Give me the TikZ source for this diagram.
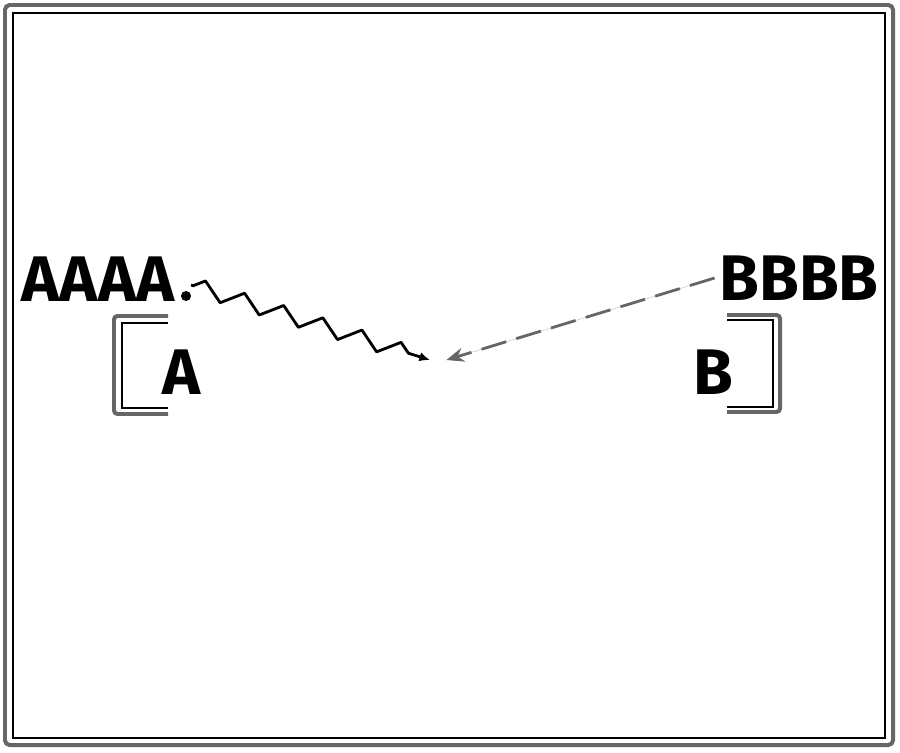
\documentclass[tikz,border=0pt]{standalone}
\usepackage{fontspec}
\setmainfont{Fira Sans}
\usepackage{tikz}
\usetikzlibrary{arrows.meta}
\usetikzlibrary{decorations.pathmorphing}
\pgfdeclarelayer{edgelayer}
\pgfdeclarelayer{nodelayer}
\pgfsetlayers{edgelayer,nodelayer,main}
\tikzstyle{word}=[inner sep=0pt,font=\fontsize{55}{58}\selectfont\bfseries]
\tikzstyle{outerline}=[line width=3.4pt,draw=black!60]
\tikzstyle{innerline}=[line width=1.3pt,draw=black]

\begin{document}
\begin{tikzpicture}[x=0.03cm,y=-0.03cm]
        \useasboundingbox (0,0) rectangle (900,752);
        \begin{pgfonlayer}{nodelayer}
            \node [style = word] (aaaa) at (98, 279) {AAAA};
            \node [style = word] (bbbb) at (799, 278) {BBBB};

            \node [style = word] (a) at (182, 372) {A};
            \node [style = word] (b) at (713, 372) {B};

            \coordinate (dot) at (186, 296);
            \coordinate (meet) at (437, 360);
            \fill (dot) circle (5);
        \end{pgfonlayer}

        \begin{pgfonlayer}{edgelayer}
            % frame
            \draw [style = outerline, rounded corners=4] (5, 5) rectangle (893, 745);
            \draw [style = innerline] (13, 13) rectangle (885, 738);

            % brackets
            \draw [style = outerline, rounded corners=3] (168, 316) -- (114, 316) -- (114, 414) -- (168, 414);
            \draw [style = innerline] (168, 323) -- (122, 323) -- (122, 408) -- (168, 408);
            \draw [style = outerline, rounded corners=3] (727, 315) -- (780, 315) -- (780, 412) -- (727, 412);
            \draw [style = innerline] (727, 320) -- (773, 320) -- (773, 407) -- (727, 407);

            % arrows
            \draw [-{Latex[length=9pt,width=8pt]}, line width=2.4pt, line join=round, decorate, decoration={zigzag, segment length=35, amplitude=7, pre length=2, post length=14}] ([shift={(5,-11)}]dot) to ([xshift=-6]meet);
            \draw [-{Stealth[length=15pt,width=12pt]}, line width=2.4pt, draw=black!60, fill=black!85, dash pattern=on 22pt off 9pt] ([xshift=-4]bbbb.west) to ([xshift=8]meet);
        \end{pgfonlayer}
    \end{tikzpicture}
\end{document}
